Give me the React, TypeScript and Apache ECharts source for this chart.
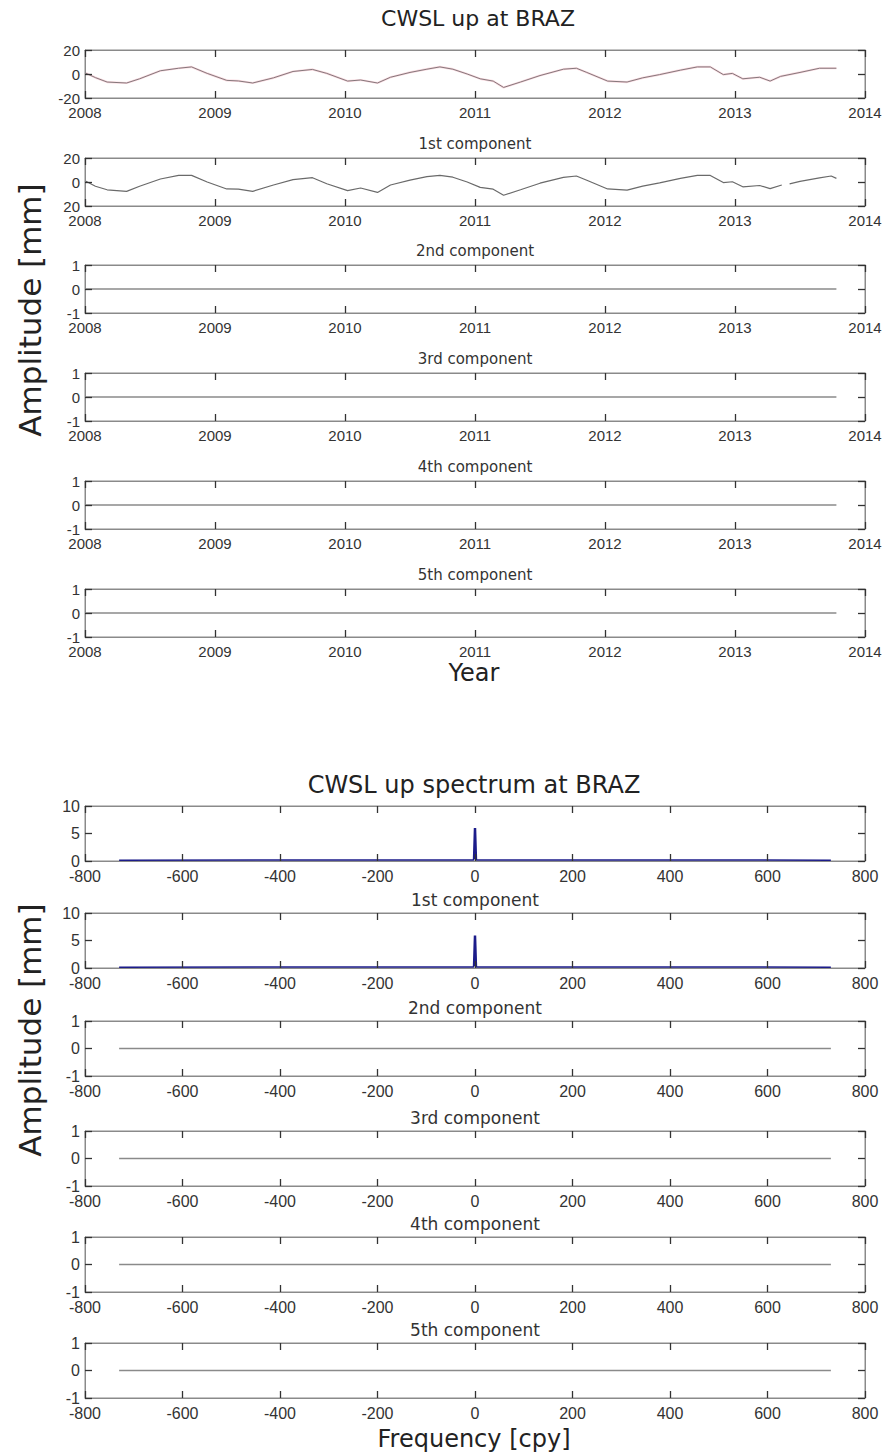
import React, { useEffect, useRef } from "react";
import * as echarts from "echarts";

// ---------- DATA ----------
const componentNames = ["1st component", "2nd component", "3rd component", "4th component", "5th component"];

const years = [
  2008.0, 2008.08, 2008.17, 2008.32, 2008.42, 2008.58, 2008.72, 2008.82, 2008.94, 2009.09,
  2009.18, 2009.29, 2009.45, 2009.6, 2009.75, 2009.86, 2010.02, 2010.12, 2010.25, 2010.35,
  2010.5, 2010.63, 2010.73, 2010.83, 2010.94, 2011.04, 2011.14, 2011.22, 2011.35, 2011.5,
  2011.68, 2011.78, 2011.86, 2012.02, 2012.17, 2012.29, 2012.42, 2012.58, 2012.71, 2012.81,
  2012.91, 2012.98, 2013.06, 2013.19, 2013.27, 2013.35, 2013.5, 2013.65, 2013.78,
];
const upValues = [
  1, -3, -6.7, -7.5, -4, 2.7, 4.8, 5.9, 0.5, -5.3,
  -5.8, -7.5, -3.2, 2.1, 3.8, 0.5, -5.9, -5, -7.5, -2.7,
  1.3, 4, 5.9, 4, 0, -4, -5.9, -11.2, -6.7, -1.3,
  4, 4.8, 1.3, -5.9, -6.7, -3.2, -0.5, 3.2, 5.9, 5.9,
  -0.5, 0.5, -4, -2.7, -5.9, -2, 1.3, 4.8, 4.8,
];
const comp1Years = [
  2008.0, 2008.08, 2008.17, 2008.32, 2008.42, 2008.58, 2008.72, 2008.82, 2008.94, 2009.09,
  2009.18, 2009.29, 2009.45, 2009.6, 2009.75, 2009.86, 2010.02, 2010.12, 2010.25, 2010.35,
  2010.5, 2010.63, 2010.73, 2010.83, 2010.94, 2011.04, 2011.14, 2011.22, 2011.35, 2011.5,
  2011.68, 2011.78, 2011.86, 2012.02, 2012.17, 2012.29, 2012.42, 2012.58, 2012.71, 2012.81,
  2012.91, 2012.98, 2013.06, 2013.19, 2013.27, 2013.36, 2013.39, 2013.42, 2013.5, 2013.65,
  2013.74, 2013.78,
];
const comp1Values = [
  1, -3.5, -6.5, -7.8, -3.5, 2.5, 5.5, 5.5, 0, -5.8,
  -6, -7.8, -2.5, 2, 3.6, -1.5, -7.2, -5, -8.7, -2.5,
  1.5, 4.5, 5.5, 4, 0, -4.5, -6, -11, -6.5, -1,
  3.8, 5, 1.5, -5.8, -6.8, -3.5, -0.8, 3, 5.5, 5.5,
  -0.5, 0.2, -4, -2.9, -5.5, -2.5, null, -1.5, 0.5, 3.5,
  5, 3,
];
const zeroYears = [2008.0, 2013.78];
const zeroValues = [0, 0];

const freqs = [-730, -3, -1, 0, 1, 3, 730];
const specUp = [0.15, 0.2, 6.0, 0.3, 6.0, 0.2, 0.15];
const specComp1 = [0.15, 0.2, 5.9, 0.3, 5.9, 0.2, 0.15];
const zeroFreqs = [-730, 730];
const specZero = [0, 0];

const topTitle = "CWSL up at BRAZ";
const bottomTitle = "CWSL up spectrum at BRAZ";

// ---------- LAYOUT ----------
const W = 888;
const H = 1454;
const LEFT = 85;
const PW = 780;
const topTops = [50, 158, 265, 373, 481, 589];
const topH = 48;
const botTops = [806, 913, 1021, 1131, 1237, 1343];
const botH = 55;

const tickFont = "Liberation Sans";
const textFont = "DejaVu Sans";

function pairs(xs: number[], ys: (number | null)[]) {
  return xs.map((x, i) => [x, ys[i]]);
}

export default function App() {
  const ref = useRef<HTMLDivElement>(null);
  useEffect(() => {
    if (!ref.current) return;
    const chart = echarts.init(ref.current, null, { renderer: "svg" });

    const grids: any[] = [];
    const xAxes: any[] = [];
    const yAxes: any[] = [];
    const series: any[] = [];
    const graphics: any[] = [];

    const axisCommon = {
      axisLine: { show: true, onZero: false, lineStyle: { color: "#8a8a8a", width: 1 } },
      axisTick: { show: true, inside: true, length: 7, alignWithLabel: true, lineStyle: { color: "#333", width: 1.3 } },
      splitLine: { show: false },
      z: 5,
    };

    const addPanel = (
      top: number,
      h: number,
      xmin: number,
      xmax: number,
      xint: number,
      ymin: number,
      ymax: number,
      yint: number,
      fs: number,
      yfmt?: (v: number) => string
    ) => {
      const labelStyle = { color: "#333", fontSize: fs, fontFamily: tickFont };
      const gi = grids.length;
      grids.push({ left: LEFT, top, width: PW, height: h, show: true, borderColor: "#8a8a8a", borderWidth: 1, z: 0 });
      const xb = xAxes.length;
      xAxes.push({
        type: "value", gridIndex: gi, min: xmin, max: xmax, interval: xint, position: "bottom",
        ...axisCommon,
        axisLabel: { ...labelStyle, margin: 7, formatter: (v: number) => String(v) },
      });
      xAxes.push({
        type: "value", gridIndex: gi, min: xmin, max: xmax, interval: xint, position: "top",
        ...axisCommon, axisLabel: { show: false },
      });
      const yb = yAxes.length;
      yAxes.push({
        type: "value", gridIndex: gi, min: ymin, max: ymax, interval: yint, position: "left",
        ...axisCommon,
        axisLabel: { ...labelStyle, margin: 5, formatter: yfmt || ((v: number) => String(v)) },
      });
      yAxes.push({
        type: "value", gridIndex: gi, min: ymin, max: ymax, interval: yint, position: "right",
        ...axisCommon, axisLabel: { show: false },
      });
      return { xi: xb, yi: yb };
    };

    const lineSeries = (ax: { xi: number; yi: number }, data: any[], color: string, width: number, z = 2) => ({
      type: "line", xAxisIndex: ax.xi, yAxisIndex: ax.yi, data, showSymbol: false, symbol: "none",
      lineStyle: { color, width }, connectNulls: false, z, silent: true,
    });

    // ---- top figure ----
    topTops.forEach((t, i) => {
      let ax;
      if (i === 0) {
        ax = addPanel(t, topH, 2008, 2014, 1, -20, 20, 20, 15);
        series.push(lineSeries(ax, pairs(years, upValues), "rgba(235,130,150,0.3)", 2.2, 2));
        series.push(lineSeries(ax, pairs(years, upValues), "#85777b", 1, 3));
      } else if (i === 1) {
        ax = addPanel(t, topH, 2008, 2014, 1, -20, 20, 20, 15, (v: number) => String(Math.abs(v)));
        series.push(lineSeries(ax, pairs(comp1Years, comp1Values), "#6a6a6a", 1.2));
      } else {
        ax = addPanel(t, topH, 2008, 2014, 1, -1, 1, 1, 15);
        series.push(lineSeries(ax, pairs(zeroYears, zeroValues), "#8a8a8a", 1.3));
      }
      if (i > 0) {
        graphics.push({
          type: "text", x: LEFT + PW / 2, y: t - 14,
          style: { text: componentNames[i - 1], fill: "#333", font: `15px "${textFont}"`, textAlign: "center", textVerticalAlign: "middle" },
        });
      }
    });

    // ---- bottom figure ----
    botTops.forEach((t, i) => {
      let ax;
      if (i === 0) {
        ax = addPanel(t, botH, -800, 800, 200, 0, 10, 5, 16);
        series.push(lineSeries(ax, pairs(freqs, specUp), "#1c1c8a", 1.5));
      } else if (i === 1) {
        ax = addPanel(t, botH, -800, 800, 200, 0, 10, 5, 16);
        series.push(lineSeries(ax, pairs(freqs, specComp1), "#1c1c8a", 1.5));
      } else {
        ax = addPanel(t, botH, -800, 800, 200, -1, 1, 1, 16);
        series.push(lineSeries(ax, pairs(zeroFreqs, specZero), "#8a8a8a", 1.5));
      }
      if (i > 0) {
        graphics.push({
          type: "text", x: LEFT + PW / 2, y: t - 13,
          style: { text: componentNames[i - 1], fill: "#333", font: `17px "${textFont}"`, textAlign: "center", textVerticalAlign: "middle" },
        });
      }
    });

    // titles & axis names
    graphics.push({ type: "text", x: 478, y: 18, style: { text: topTitle, fill: "#222", font: `22px "${textFont}"`, textAlign: "center", textVerticalAlign: "middle" } });
    graphics.push({ type: "text", x: 474, y: 673, style: { text: "Year", fill: "#222", font: `24px "${textFont}"`, textAlign: "center", textVerticalAlign: "middle" } });
    graphics.push({ type: "text", x: 474, y: 785, style: { text: bottomTitle, fill: "#222", font: `24px "${textFont}"`, textAlign: "center", textVerticalAlign: "middle" } });
    graphics.push({ type: "text", x: 474, y: 1439, style: { text: "Frequency [cpy]", fill: "#222", font: `24px "${textFont}"`, textAlign: "center", textVerticalAlign: "middle" } });
    graphics.push({
      type: "text", x: 30, y: 310, rotation: Math.PI / 2,
      style: { text: "Amplitude [mm]", fill: "#222", font: `31px "${textFont}"`, textAlign: "center", textVerticalAlign: "middle" },
    });
    graphics.push({
      type: "text", x: 30, y: 1030, rotation: Math.PI / 2,
      style: { text: "Amplitude [mm]", fill: "#222", font: `31px "${textFont}"`, textAlign: "center", textVerticalAlign: "middle" },
    });

    chart.setOption({
      animation: false,
      backgroundColor: "#ffffff",
      grid: grids,
      xAxis: xAxes,
      yAxis: yAxes,
      series,
      graphic: graphics,
    });
    return () => chart.dispose();
  }, []);

  return <div ref={ref} style={{ position: "absolute", left: 0, top: 0, width: W, height: H }} />;
}
